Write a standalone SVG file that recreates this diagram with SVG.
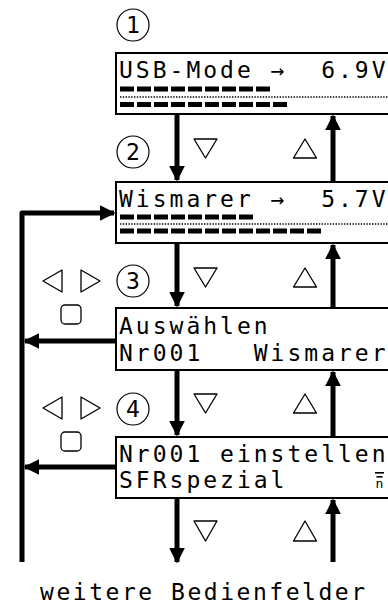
<svg xmlns="http://www.w3.org/2000/svg" width="388" height="608" viewBox="0 0 388 608">
<style>
.lcd{font-family:"DejaVu Sans Mono","Liberation Mono",monospace;font-size:23px;letter-spacing:3px;fill:#000;white-space:pre}
.box{fill:#fff;stroke:#000;stroke-width:2}
.num{fill:#fff;stroke:#000;stroke-width:1.2}
.numt{font-family:"DejaVu Sans Mono","Liberation Mono",monospace;font-size:23px;text-anchor:middle;fill:#000}
.tri{fill:#fff;stroke:#000;stroke-width:1.3;stroke-linejoin:round}
.bar{stroke:#000;stroke-width:5;stroke-dasharray:14 3}
.dot{stroke:#000;stroke-width:1.6;stroke-dasharray:1.4 1.4}
.thick{fill:none;stroke:#000;stroke-width:5;stroke-linejoin:round}
</style>
<defs>
<marker id="ah" viewBox="0 0 10 10" refX="9" refY="5" markerWidth="3.2" markerHeight="3.2" orient="auto" markerUnits="strokeWidth">
<path d="M0,0 L10,5 L0,10 Z" fill="#000"/>
</marker>
</defs>

<g id="connectors">
<line class="thick" x1="177" y1="114" x2="177" y2="180" marker-end="url(#ah)"/>
<line class="thick" x1="333" y1="182" x2="333" y2="116" marker-end="url(#ah)"/>
<line class="thick" x1="177" y1="243" x2="177" y2="306" marker-end="url(#ah)"/>
<line class="thick" x1="333" y1="308" x2="333" y2="245" marker-end="url(#ah)"/>
<line class="thick" x1="177" y1="370" x2="177" y2="435" marker-end="url(#ah)"/>
<line class="thick" x1="333" y1="437" x2="333" y2="372" marker-end="url(#ah)"/>
<line class="thick" x1="177" y1="498" x2="177" y2="562" marker-end="url(#ah)"/>
<line class="thick" x1="333" y1="562" x2="333" y2="500" marker-end="url(#ah)"/>
<path class="thick" d="M22,562 L22,213 L114,213" marker-end="url(#ah)"/>
<line class="thick" x1="116" y1="341" x2="25" y2="341" marker-end="url(#ah)"/>
<line class="thick" x1="116" y1="467" x2="25" y2="467" marker-end="url(#ah)"/>
</g>

<g id="node1">
<circle class="num" cx="133" cy="25" r="16"/>
<text class="numt" x="133" y="33">1</text>
<rect class="box" x="116" y="53" width="290" height="61"/>
<text class="lcd" x="119" y="78">USB-Mode →  6.9V</text>
<line class="bar" x1="120" y1="89" x2="272" y2="89"/>
<line class="dot" x1="120" y1="97" x2="388" y2="97"/>
<line class="bar" x1="120" y1="104.5" x2="289" y2="104.5"/>
</g>

<g id="node2">
<circle class="num" cx="133" cy="152" r="16"/>
<text class="numt" x="133" y="160">2</text>
<rect class="box" x="116" y="182" width="290" height="61"/>
<text class="lcd" x="119" y="207">Wismarer →  5.7V</text>
<line class="bar" x1="120" y1="217" x2="255" y2="217"/>
<line class="dot" x1="120" y1="224" x2="388" y2="224"/>
<line class="bar" x1="120" y1="231" x2="323" y2="231"/>
</g>

<g id="node3">
<circle class="num" cx="133" cy="281" r="16"/>
<text class="numt" x="133" y="289">3</text>
<rect class="box" x="116" y="308" width="290" height="62"/>
<text class="lcd" x="119" y="334">Auswählen</text>
<text class="lcd" x="119" y="361">Nr001   Wismarer</text>
</g>

<g id="node4">
<circle class="num" cx="133" cy="409" r="16"/>
<text class="numt" x="133" y="417">4</text>
<rect class="box" x="116" y="437" width="290" height="61"/>
<text class="lcd" x="119" y="462">Nr001 einstellen</text>
<text class="lcd" x="119" y="488">SFRspezial</text>
<rect x="375" y="472" width="9" height="1.6" fill="#000"/>
<rect x="376.5" y="476" width="6" height="1.6" fill="#000"/>
<text x="379.5" y="488" font-family="DejaVu Sans Mono, monospace" font-size="13" text-anchor="middle">n</text>
</g>

<g id="keys">
<polygon class="tri" points="194,139 217,139 205.5,158"/>
<polygon class="tri" points="305,139 293.5,158 316.5,158"/>
<polygon class="tri" points="194,268 217,268 205.5,287"/>
<polygon class="tri" points="305,268 293.5,287 316.5,287"/>
<polygon class="tri" points="194,394 217,394 205.5,413"/>
<polygon class="tri" points="305,394 293.5,413 316.5,413"/>
<polygon class="tri" points="194,521 217,521 205.5,541"/>
<polygon class="tri" points="305,521 293.5,541 316.5,541"/>
<polygon class="tri" points="62,270 62,292 43,281"/>
<polygon class="tri" points="81,270 81,292 100,281"/>
<rect class="tri" x="61" y="305" width="20" height="19" rx="4"/>
<polygon class="tri" points="62,397 62,419 43,408"/>
<polygon class="tri" points="81,397 81,419 100,408"/>
<rect class="tri" x="61" y="432" width="20" height="19" rx="4"/>
</g>

<text class="lcd" x="40" y="600" textLength="328" lengthAdjust="spacing">weitere Bedienfelder</text>
</svg>
